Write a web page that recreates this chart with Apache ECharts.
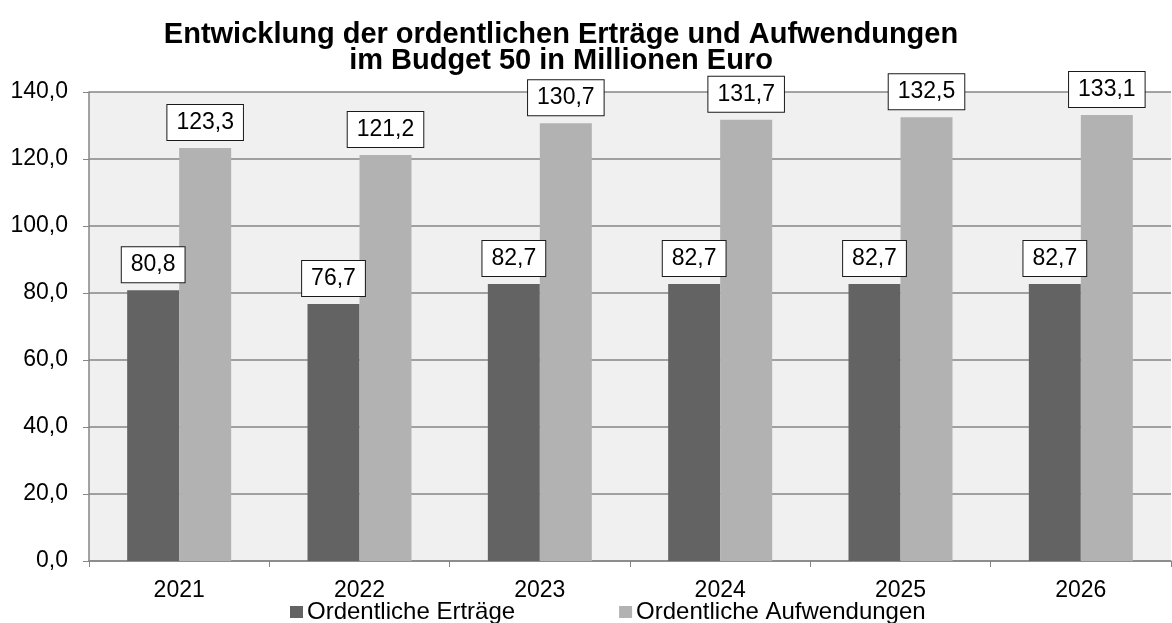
<!DOCTYPE html>
<html>
<head>
<meta charset="utf-8">
<script src="https://cdn.jsdelivr.net/npm/echarts@6/dist/echarts.min.js"></script>
<style>
  html, body { margin: 0; padding: 0; background: #fff; }
  #chart { width: 1172px; height: 623px; }
</style>
</head>
<body>
<div id="chart"></div>
<script>
  var years = ['2021', '2022', '2023', '2024', '2025', '2026'];
  var ertraege = [80.8, 76.7, 82.7, 82.7, 82.7, 82.7];
  var aufwendungen = [123.3, 121.2, 130.7, 131.7, 132.5, 133.1];
  var seriesNames = ['Ordentliche Erträge', 'Ordentliche Aufwendungen'];

  var chart = echarts.init(document.getElementById('chart'));

  var fmt = function (v) { return v.toFixed(1).replace('.', ','); };

  var boxLabel = {
    show: true,
    position: 'top',
    distance: 8,
    color: '#000',
    fontFamily: 'Liberation Sans, Arial, sans-serif',
    fontSize: 23,
    lineHeight: 23,
    backgroundColor: '#fff',
    borderColor: '#1a1a1a',
    borderWidth: 1,
    padding: [6, 9, 6, 9],
    formatter: function (p) { return fmt(p.value); }
  };

  var option = {
    backgroundColor: '#fff',
    animation: false,
    title: {
      text: 'Entwicklung der ordentlichen Erträge und Aufwendungen\nim Budget 50 in Millionen Euro',
      left: 556,
      textAlign: 'center',
      top: 17,
      textStyle: {
        fontFamily: 'Liberation Sans, Arial, sans-serif',
        fontWeight: 'bold',
        fontSize: 29,
        lineHeight: 26,
        color: '#000'
      }
    },
    legend: {
      left: 285,
      top: 595,
      padding: [5, 5, 0, 5],
      itemWidth: 13,
      itemHeight: 12,
      itemGap: 104,
      icon: 'rect',
      textStyle: {
        fontFamily: 'Liberation Sans, Arial, sans-serif',
        fontSize: 24,
        color: '#000',
        padding: [0, 0, 0, -1]
      },
      data: seriesNames
    },
    grid: {
      left: 89,
      right: 1,
      top: 92,
      bottom: 62,
      containLabel: false,
      show: true,
      backgroundColor: '#f0f0f0',
      borderWidth: 0
    },
    xAxis: {
      type: 'category',
      data: years,
      axisLine: { lineStyle: { color: '#868686', width: 1.5 } },
      axisTick: { show: true, alignWithLabel: false, length: 6, lineStyle: { color: '#868686' } },
      axisLabel: {
        color: '#000',
        fontFamily: 'Liberation Sans, Arial, sans-serif',
        fontSize: 23,
        margin: 18
      }
    },
    yAxis: {
      type: 'value',
      min: 0,
      max: 140,
      interval: 20,
      axisLine: { show: true, lineStyle: { color: '#868686', width: 1.5 } },
      axisTick: { show: true, length: 6, lineStyle: { color: '#868686' } },
      splitLine: { lineStyle: { color: '#868686', width: 1.5 } },
      axisLabel: {
        color: '#000',
        fontFamily: 'Liberation Sans, Arial, sans-serif',
        fontSize: 23,
        margin: 21,
        formatter: fmt
      }
    },
    series: [
      {
        name: seriesNames[0],
        type: 'bar',
        data: ertraege,
        barWidth: 52,
        barGap: '0%',
        itemStyle: { color: '#636363' },
        label: boxLabel
      },
      {
        name: seriesNames[1],
        type: 'bar',
        data: aufwendungen,
        barWidth: 52,
        barGap: '0%',
        itemStyle: { color: '#b2b2b2' },
        label: boxLabel
      }
    ]
  };

  chart.setOption(option);
</script>
</body>
</html>
